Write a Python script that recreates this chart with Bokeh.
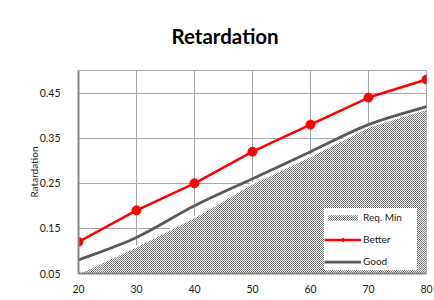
from bokeh.plotting import figure
from bokeh.models import (Range1d, FixedTicker, PrintfTickFormatter, Legend, LegendItem)
from bokeh.embed import file_html
from bokeh.resources import INLINE

# ---- data ----
temps = [20, 30, 40, 50, 60, 70, 80]
req_min = [0.05, 0.11, 0.175, 0.25, 0.31, 0.375, 0.415]
better = [0.12, 0.19, 0.25, 0.32, 0.38, 0.44, 0.48]
good = [0.08, 0.13, 0.20, 0.26, 0.32, 0.38, 0.42]
x_ticks = [20, 30, 40, 50, 60, 70, 80]
y_ticks = [0.05, 0.15, 0.25, 0.35, 0.45]
y_floor = 0.05

FONT = "Lato"

p = figure(width=434, height=300, output_backend="svg", toolbar_location=None,
           x_range=Range1d(20, 80), y_range=Range1d(0.05, 0.5),
           min_border_left=78, min_border_right=8, min_border_top=70, min_border_bottom=27)

p.title.text = "Retardation"
p.title.text_font = FONT
p.title.text_font_style = "bold"
p.title.text_font_size = "20.5px"
p.title.text_color = "#000000"
p.title.align = "left"
p.title.offset = 93
p.title.standoff = 41
p.title.vertical_align = "top"

# hatched required-minimum area
area = p.varea(x=temps, y1=[y_floor] * len(temps), y2=req_min,
               fill_color="white", hatch_pattern="diagonal_cross",
               hatch_color="#6a6a6a", hatch_scale=2, hatch_weight=1)
p.line(x=temps, y=req_min, line_color="white", line_width=2)

# smoothed "Good" curve (Catmull-Rom style Bezier through the data points)
n = len(temps)
x0, y0, x1, y1, cx0, cy0, cx1, cy1 = [], [], [], [], [], [], [], []
for i in range(n - 1):
    im1 = max(i - 1, 0)
    ip2 = min(i + 2, n - 1)
    x0.append(temps[i]); y0.append(good[i])
    x1.append(temps[i + 1]); y1.append(good[i + 1])
    cx0.append(temps[i] + (temps[i + 1] - temps[im1]) / 6)
    cy0.append(good[i] + (good[i + 1] - good[im1]) / 6)
    cx1.append(temps[i + 1] - (temps[ip2] - temps[i]) / 6)
    cy1.append(good[i + 1] - (good[ip2] - good[i]) / 6)
good_r = p.bezier(x0=x0, y0=y0, x1=x1, y1=y1, cx0=cx0, cy0=cy0, cx1=cx1, cy1=cy1,
                  line_color="#595959", line_width=2.75)

better_line = p.line(x=temps, y=better, line_color="#ff0000", line_width=2.5)
better_pts = p.scatter(x=temps, y=better, size=9, fill_color="#ff0000", line_color="#ff0000")

# axes
for ax in (p.xaxis[0], p.yaxis[0]):
    ax.axis_line_color = "#868686"
    ax.axis_line_width = 2
    ax.major_tick_line_color = None
    ax.minor_tick_line_color = None
    ax.major_label_text_font = FONT
    ax.major_label_text_font_size = "10.5px"
    ax.major_label_text_color = "#1a1a1a"

p.xaxis.ticker = FixedTicker(ticks=x_ticks)
p.yaxis.ticker = FixedTicker(ticks=y_ticks)
p.yaxis.formatter = PrintfTickFormatter(format="%.2f")
p.xaxis.major_label_standoff = 5
p.yaxis.major_label_standoff = 12
p.yaxis.axis_label = "Ratardation"
p.yaxis.axis_label_text_font = FONT
p.yaxis.axis_label_text_font_style = "normal"
p.yaxis.axis_label_text_font_size = "10px"
p.yaxis.axis_label_text_color = "#1a1a1a"
p.yaxis.axis_label_standoff = -3

p.xgrid.grid_line_color = "#a6a6a6"
p.ygrid.grid_line_color = "#a6a6a6"
p.xgrid.grid_line_width = 1
p.ygrid.grid_line_width = 1
p.outline_line_color = "#a6a6a6"
p.outline_line_width = 1

legend = Legend(items=[
    LegendItem(label="Req. Min", renderers=[area]),
    LegendItem(label="Better", renderers=[better_line, better_pts]),
    LegendItem(label="Good", renderers=[good_r]),
], location=(246, 3))
legend.border_line_color = None
legend.background_fill_color = "white"
legend.background_fill_alpha = 1
legend.padding = 4
legend.spacing = 4
legend.glyph_width = 37
legend.glyph_height = 7
legend.label_height = 18
legend.label_width = 54
legend.label_standoff = 2
legend.label_text_font = FONT
legend.label_text_font_size = "10px"
legend.label_text_color = "#1a1a1a"
legend.margin = 0
p.add_layout(legend, "center")

open("out.html", "w").write(file_html(p, INLINE))
